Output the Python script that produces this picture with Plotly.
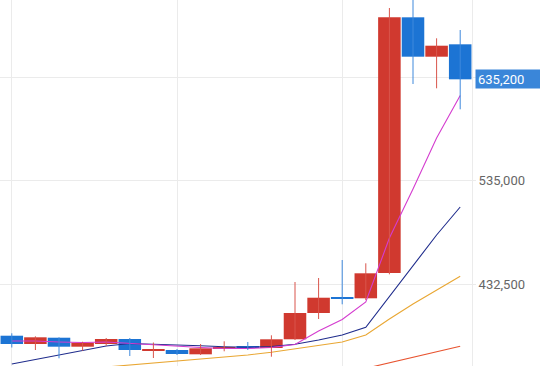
import plotly.graph_objects as go

# ---- data ----
idx = list(range(20))
opens  = [381300, 373080, 379320, 370410, 373080, 378030, 366650, 367140, 362880, 369120,
          370310, 369120, 377740, 403780, 418830, 418340, 443390, 696610, 657600, 669870]
highs  = [383680, 380710, 379720, 375360, 379020, 379020, 374570, 368130, 373080, 375760,
          375060, 381700, 434480, 438440, 456270, 453000, 705820, 722000, 675820, 684040]
lows   = [369620, 367140, 358920, 366450, 371400, 361200, 359220, 362190, 362190, 365850,
          367140, 360500, 377000, 397840, 412400, 416660, 442110, 630560, 626300, 605500]
closes = [373080, 379720, 370410, 374370, 378030, 367140, 367140, 363180, 368820, 369810,
          369620, 377740, 403780, 418930, 417940, 443100, 696610, 657600, 668490, 635200]

ma_magenta = [376050, 376050, 375060, 374570, 375060, 373580, 372590, 370610, 369620, 368630,
              368630, 369620, 372590, 385960, 397340, 414670, 478050, 526580, 577080, 619170]
ma_navy    = [353280, 357730, 362190, 366650, 371100, 373580, 373080, 372090, 371400, 370410,
              369810, 370610, 372790, 377040, 382000, 389620, 420120, 450620, 481030, 508750]
ma_orange  = [342380, 344360, 346340, 348320, 350300, 351990, 353770, 355750, 357730, 359910,
              362190, 364860, 368130, 371100, 375060, 382000, 397840, 412690, 426560, 440130]
ma_red     = [None] * 14 + [343570, 349020, 354460, 359910, 365360, 370800]

y_ticks = [432500, 535000, 637500]
y_ticktext = ["432,500", "535,000", ""]
x_grid = [0, 7, 14]
last_price = 635200

RED = "#d0392f"
BLUE = "#1c74d4"
RED_WICK = "#d9554c"
BLUE_WICK = "#3f89dc"

fig = go.Figure()
for vals, col in [(ma_red, "#e8532f"), (ma_orange, "#e9a733"),
                  (ma_navy, "#1f2c8c"), (ma_magenta, "#d43ccf")]:
    fig.add_trace(go.Scatter(x=idx, y=vals, mode="lines",
                             line=dict(color=col, width=1.1),
                             hoverinfo="skip", showlegend=False))

# wicks
for up, col in [(True, RED_WICK), (False, BLUE_WICK)]:
    wx, wy = [], []
    for i in idx:
        if (closes[i] >= opens[i]) == up:
            wx += [i, i, None]
            wy += [lows[i], highs[i], None]
    fig.add_trace(go.Scatter(x=wx, y=wy, mode="lines", line=dict(color=col, width=1),
                             hoverinfo="skip", showlegend=False))

# bodies
for up, col in [(True, RED), (False, BLUE)]:
    bx, bbase, bh = [], [], []
    for i in idx:
        if (closes[i] >= opens[i]) == up:
            lo = min(opens[i], closes[i])
            hi = max(opens[i], closes[i])
            bx.append(i)
            bbase.append(lo)
            bh.append(max(hi - lo, 900))
    fig.add_trace(go.Bar(x=bx, y=bh, base=bbase, width=0.955,
                         marker=dict(color=col, line=dict(width=0)),
                         hoverinfo="skip", showlegend=False))

fig.add_annotation(
    xref="paper", x=1.0, xanchor="left", xshift=3,
    yref="y", y=last_price, yanchor="middle",
    text=f"{last_price:,}", showarrow=False, align="left",
    font=dict(family="Roboto", size=13, color="white"),
    bgcolor="#3a86d9", borderpad=2, width=61, height=14)

fig.update_layout(
    width=540, height=366,
    margin=dict(l=0, r=68, t=0, b=0, autoexpand=False),
    paper_bgcolor="white", plot_bgcolor="white",
    barmode="overlay",
    showlegend=False,
    hovermode=False,
    font=dict(family="Roboto", size=13, color="#666666"),
    xaxis=dict(range=[-0.5, 19.5], tickvals=x_grid, showticklabels=False,
               showgrid=True, gridcolor="#ebebeb", gridwidth=1, zeroline=False,
               showline=False, ticks="", automargin=False),
    yaxis=dict(range=[351300, 713750], side="right", tickvals=y_ticks,
               ticktext=y_ticktext, showgrid=True, gridcolor="#ebebeb", gridwidth=1,
               zeroline=False, showline=True, linecolor="#ebebeb", linewidth=1,
               ticks="outside", ticklen=3, tickcolor="#ebebeb", automargin=False,
               tickfont=dict(family="Roboto", size=13, color="#666666")),
)

fig.write_html("out.html",
               config={"displayModeBar": False},
               post_script="document.body.style.margin='0';document.body.style.overflow='hidden';")
